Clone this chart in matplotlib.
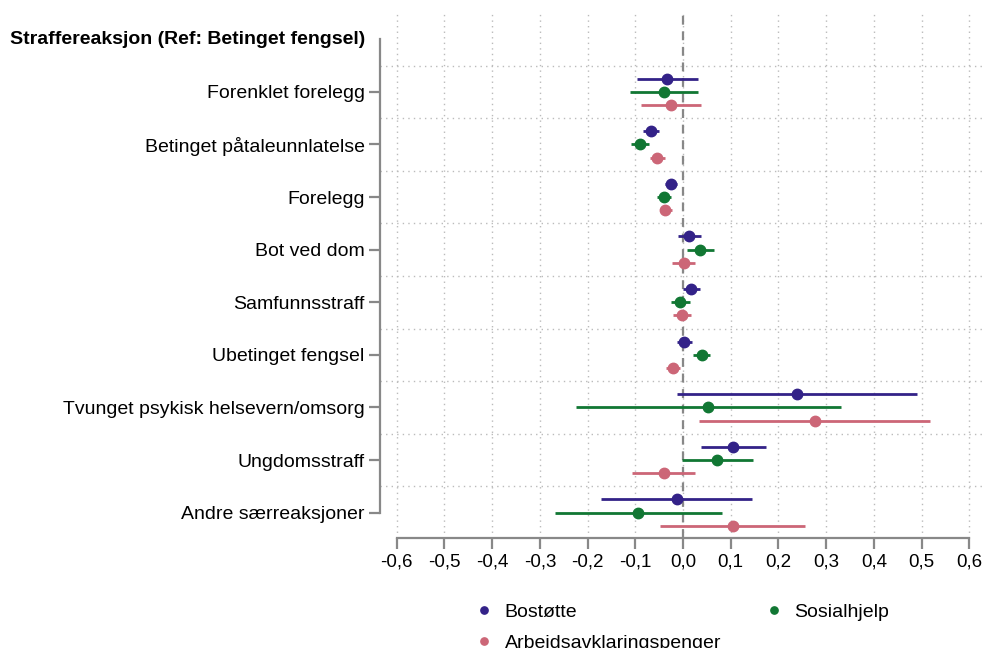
import matplotlib.pyplot as plt
import matplotlib.transforms as mtransforms
import numpy as np

plt.rcParams['font.family'] = ['Liberation Sans', 'DejaVu Sans']

# categories (top to bottom)
categories = ["Forenklet forelegg", "Betinget påtaleunnlatelse", "Forelegg",
              "Bot ved dom", "Samfunnsstraff", "Ubetinget fengsel",
              "Tvunget psykisk helsevern/omsorg", "Ungdomsstraff",
              "Andre særreaksjoner"]
header = "Straffereaksjon (Ref: Betinget fengsel)"

series_names = ["Bostøtte", "Sosialhjelp", "Arbeidsavklaringspenger"]
colors = ["#332288", "#117733", "#CC6677"]

# point estimates and confidence limits
bostotte = [-0.033, -0.067, -0.025, 0.013, 0.017, 0.003, 0.239, 0.104, -0.013]
bostotte_lo = [-0.096, -0.083, -0.037, -0.011, -0.001, -0.012, -0.012, 0.037, -0.171]
bostotte_hi = [0.032, -0.050, -0.013, 0.038, 0.036, 0.018, 0.490, 0.173, 0.145]

sosialhjelp = [-0.040, -0.090, -0.040, 0.036, -0.006, 0.039, 0.053, 0.071, -0.094]
sosialhjelp_lo = [-0.112, -0.108, -0.054, 0.009, -0.026, 0.022, -0.225, -0.003, -0.269]
sosialhjelp_hi = [0.032, -0.071, -0.026, 0.064, 0.015, 0.056, 0.331, 0.147, 0.081]

aap = [-0.025, -0.054, -0.037, 0.002, -0.003, -0.021, 0.276, -0.040, 0.104]
aap_lo = [-0.088, -0.069, -0.048, -0.022, -0.020, -0.035, 0.034, -0.106, -0.048]
aap_hi = [0.0375, -0.0375, -0.024, 0.026, 0.016, -0.006, 0.518, 0.026, 0.256]

xticks = np.round(np.arange(-0.6, 0.61, 0.1), 1)

est = [bostotte, sosialhjelp, aap]
los = [bostotte_lo, sosialhjelp_lo, aap_lo]
his = [bostotte_hi, sosialhjelp_hi, aap_hi]
offsets = [-0.25, 0.0, 0.25]

fig = plt.figure(figsize=(9.87, 6.48), dpi=100)
ax = fig.add_axes([0.385, 0.17, 0.613, 0.81])

ypos = np.arange(1, len(categories) + 1)

# grid
for xt in xticks:
    ax.axvline(xt, color="#bbbbbb", linestyle=(0, (1, 3)), linewidth=1, zorder=0)
for yg in np.arange(0.5, len(categories), 1.0):
    ax.axhline(yg, color="#bbbbbb", linestyle=(0, (1, 3)), linewidth=1, zorder=0)
ax.axvline(0, color="#888888", linestyle=(0, (4, 3)), linewidth=1.6, zorder=1)

handles = []
for k in range(3):
    y = ypos + offsets[k]
    ax.hlines(y, los[k], his[k], color=colors[k], linewidth=2, zorder=2)
    h, = ax.plot(est[k], y, "o", color=colors[k], markersize=7.5, zorder=3,
                 linestyle="none", label=series_names[k])
    handles.append(h)

ax.set_xlim(-0.635, 0.633)
ax.set_ylim(9.48, -0.5)
ax.set_xticks(xticks)
ax.set_xticklabels([f"{v:.1f}".replace(".", ",").replace("-0,0", "0,0") for v in xticks],
                   fontsize=13.5)
ax.set_yticks(ypos)
ax.set_yticklabels(categories, fontsize=14)

for s in ["top", "right"]:
    ax.spines[s].set_visible(False)
ax.spines["left"].set_bounds(0, 9)
ax.spines["bottom"].set_bounds(-0.6, 0.6)
for s in ["left", "bottom"]:
    ax.spines[s].set_color("#888888")
    ax.spines[s].set_linewidth(1.6)
ax.tick_params(axis="both", color="#888888", width=1.6, length=8, pad=3)

trans = mtransforms.blended_transform_factory(fig.transFigure, ax.transData)
ax.text(10 / 987, 0, header, transform=trans, fontsize=14, fontweight="bold",
        ha="left", va="center")

leg = fig.legend([handles[0], handles[2], handles[1]],
                 [series_names[0], series_names[2], series_names[1]],
                 ncol=2, loc="upper left", bbox_to_anchor=(457 / 987, 1 - 586 / 648),
                 frameon=False, fontsize=14, handlelength=1, handletextpad=0.55,
                 columnspacing=2.2, labelspacing=0.66, markerscale=0.7)

fig.savefig("out.png", dpi=100)
